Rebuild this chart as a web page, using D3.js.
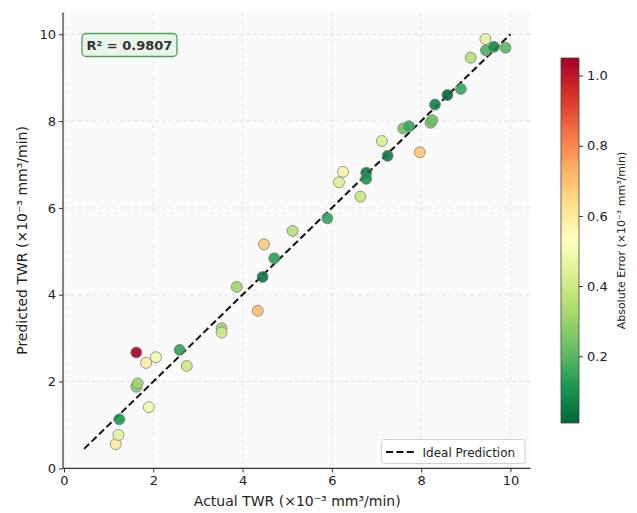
<!DOCTYPE html>
<html><head><meta charset="utf-8">
<script src="https://cdn.jsdelivr.net/npm/d3@7"></script>
<style>
body{margin:0;background:#fff;}
text{font-family:"DejaVu Sans",sans-serif;}
</style>
</head><body>
<svg id="c" width="637" height="513"></svg>
<script>
// ---- data ----
const actual = [1.16,1.22,1.24,1.90,1.62,1.65,1.62,1.84,2.06,2.59,2.75,3.53,3.53,3.87,4.34,4.45,4.48,4.71,5.12,5.90,6.64,6.25,6.16,6.77,6.77,7.25,7.12,7.97,7.60,7.73,8.21,8.25,8.31,8.59,8.89,9.11,9.44,9.45,9.63,9.89];
const predicted = [0.56,0.77,1.13,1.41,1.88,1.96,2.67,2.43,2.56,2.73,2.36,3.23,3.13,4.18,3.63,4.41,5.16,4.84,5.47,5.76,6.26,6.83,6.59,6.81,6.67,7.20,7.54,7.28,7.83,7.88,7.96,8.02,8.38,8.60,8.74,9.46,9.89,9.63,9.71,9.69];
const xTicks = [0,2,4,6,8,10];
const yTicks = [0,2,4,6,8,10];
const cbTicks = [0.2,0.4,0.6,0.8,1.0];
const idealRange = [0.45,10.0];
const xDomain = [0,10.45];
const yDomain = [0,10.5];
const r2Text = "R² = 0.9807";
const legendText = "Ideal Prediction";
const xLabel = "Actual TWR (×10⁻³ mm³/min)";
const yLabel = "Predicted TWR (×10⁻³ mm³/min)";
const cbLabel = "Absolute Error (×10⁻³ mm³/min)";
const rdylgn = ["#a50026","#d73027","#f46d43","#fdae61","#fee08b","#ffffbf","#d9ef8b","#a6d96a","#66bd63","#1a9850","#006837"];

// ---- layout ----
const svg = d3.select("#c");
const L = 64, R = 530.5, T = 12.5, B = 468.4;
const x = d3.scaleLinear().domain(xDomain).range([L, R]);
const y = d3.scaleLinear().domain(yDomain).range([B, T]);

const points = actual.map((a,i)=>({a, p:predicted[i], e:Math.abs(predicted[i]-a)}));
const eExt = d3.extent(points, d=>d.e);
const interp = d3.piecewise(d3.interpolateRgb, rdylgn.slice().reverse());
const color = v => interp((v - eExt[0])/(eExt[1]-eExt[0]));

// plot background
svg.append("rect").attr("x",L-1).attr("y",T).attr("width",R-L+1).attr("height",B-T).attr("fill","#fafafa");

// grid
const g = svg.append("g");
g.selectAll(".gx").data(xTicks).join("line")
  .attr("x1",d=>x(d)).attr("x2",d=>x(d)).attr("y1",T).attr("y2",B)
  .attr("stroke","#dcdcdc").attr("stroke-width",0.8).attr("stroke-dasharray","4,3");
g.selectAll(".gy").data(yTicks).join("line")
  .attr("y1",d=>y(d)).attr("y2",d=>y(d)).attr("x1",L).attr("x2",R)
  .attr("stroke","#dcdcdc").attr("stroke-width",0.8).attr("stroke-dasharray","4,3");

// ideal line
svg.append("line")
  .attr("x1",x(idealRange[0])).attr("y1",y(idealRange[0]))
  .attr("x2",x(idealRange[1])).attr("y2",y(idealRange[1]))
  .attr("stroke","#111").attr("stroke-width",2).attr("stroke-dasharray","7,3.4");

// points
svg.append("g").selectAll("circle").data(points).join("circle")
  .attr("cx",d=>x(d.a)).attr("cy",d=>y(d.p)).attr("r",5.5)
  .attr("fill",d=>color(d.e)).attr("fill-opacity",0.9)
  .attr("stroke","#808080").attr("stroke-width",0.8);

// axes
const xa = svg.append("g").attr("transform",`translate(0,${B})`)
  .call(d3.axisBottom(x).tickValues(xTicks).tickFormat(d3.format("d")).tickSizeOuter(0).tickSize(4).tickPadding(3));
const ya = svg.append("g").attr("transform",`translate(${L-1},0)`)
  .call(d3.axisLeft(y).tickValues(yTicks).tickFormat(d3.format("d")).tickSizeOuter(0).tickSize(4).tickPadding(3));
[xa,ya].forEach(a=>{
  a.select(".domain").attr("stroke","#333").attr("stroke-width",1.2);
  a.selectAll(".tick line").attr("stroke","#333").attr("stroke-width",1);
  a.selectAll(".tick text").attr("fill","#222").style("font-size","13px").style("font-family","DejaVu Sans");
});
xa.select(".domain").attr("d",`M${L-1},0H${R}`);
ya.select(".domain").attr("d",`M0,${B}V${T}`);

svg.append("text").attr("x",(L+R)/2).attr("y",506).attr("text-anchor","middle")
  .attr("fill","#222").style("font-size","14px").text(xLabel);
svg.append("text").attr("transform",`translate(27,${(T+B)/2}) rotate(-90)`).attr("text-anchor","middle")
  .attr("fill","#222").style("font-size","14px").text(yLabel);

// R2 box
const rb = svg.append("g");
rb.append("rect").attr("x",82).attr("y",33.5).attr("width",95).attr("height",23).attr("rx",4)
  .attr("fill","#eaf5ea").attr("stroke","#4f9f58").attr("stroke-width",1.3);
rb.append("text").attr("x",129.5).attr("y",50).attr("text-anchor","middle")
  .attr("fill","#333").style("font-size","13px").style("font-weight","bold").text(r2Text);

// legend
const lg = svg.append("g");
lg.append("rect").attr("x",381.5).attr("y",439.5).attr("width",143.5).attr("height",24).attr("rx",3)
  .attr("fill","#fff").attr("fill-opacity",0.85).attr("stroke","#d0d0d0").attr("stroke-width",1);
lg.append("line").attr("x1",386).attr("x2",414).attr("y1",452).attr("y2",452)
  .attr("stroke","#111").attr("stroke-width",2).attr("stroke-dasharray","7,3.4");
lg.append("text").attr("x",422.5).attr("y",456.5).attr("fill","#222").style("font-size","12px").text(legendText);

// colorbar
const cbX = 561, cbW = 18, cbT = 58, cbB = 423;
const cs = d3.scaleLinear().domain(eExt).range([cbB, cbT]);
const defs = svg.append("defs");
const grad = defs.append("linearGradient").attr("id","cbg").attr("x1",0).attr("y1",1).attr("x2",0).attr("y2",0);
d3.range(0,1.0001,0.05).forEach(t=>grad.append("stop").attr("offset",t).attr("stop-color",interp(t)));
svg.append("rect").attr("x",cbX).attr("y",cbT).attr("width",cbW).attr("height",cbB-cbT)
  .attr("fill","url(#cbg)").attr("stroke","#444").attr("stroke-width",0.8);
const ca = svg.append("g").attr("transform",`translate(${cbX+cbW},0)`)
  .call(d3.axisRight(cs).tickValues(cbTicks).tickFormat(d3.format(".1f")).tickSize(4).tickPadding(4));
ca.select(".domain").remove();
ca.selectAll(".tick line").attr("stroke","#333");
ca.selectAll(".tick text").attr("fill","#222").style("font-size","13px").style("font-family","DejaVu Sans");
svg.append("text").attr("transform",`translate(625,${(cbT+cbB)/2}) rotate(-90)`).attr("text-anchor","middle")
  .attr("fill","#222").style("font-size","11px").text(cbLabel);
</script>
</body></html>
